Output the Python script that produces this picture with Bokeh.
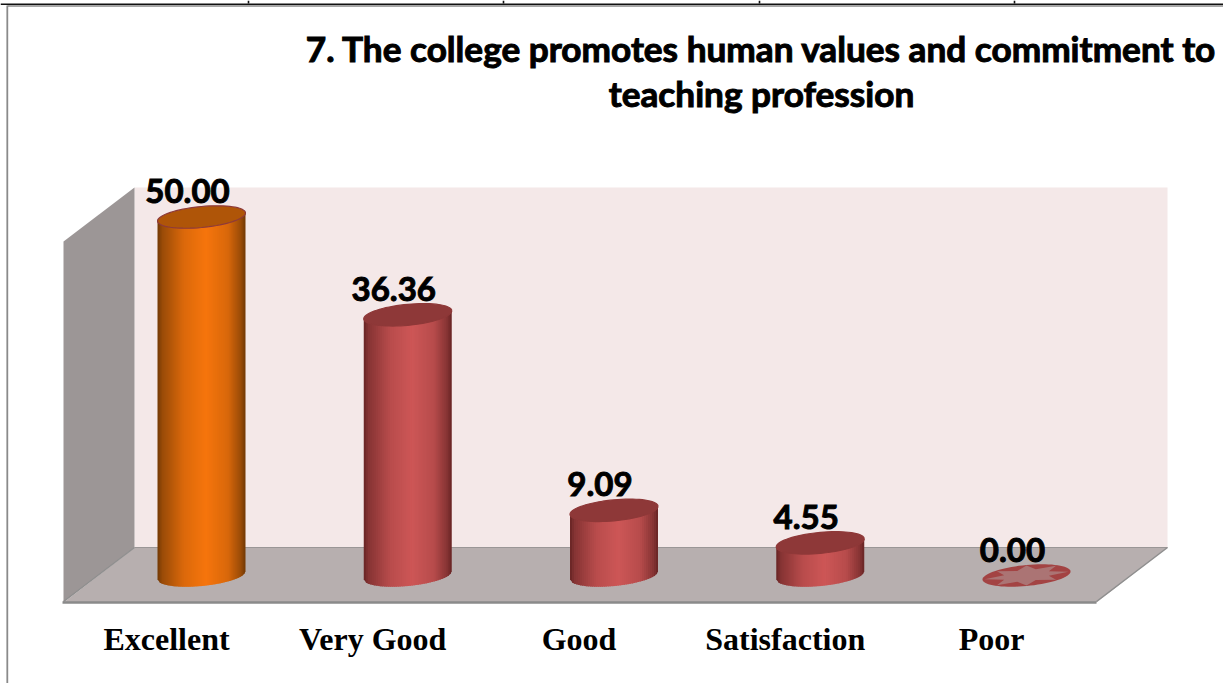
import numpy as np
from bokeh.plotting import figure
from bokeh.models import Range1d, FixedTicker
from bokeh.core.properties import value
from bokeh.embed import file_html
from bokeh.resources import INLINE

# ---- data ----
categories = ["Excellent", "Very Good", "Good", "Satisfaction", "Poor"]
scores = [50.00, 36.36, 9.09, 4.55, 0.00]
score_labels = ["50.00", "36.36", "9.09", "4.55", "0.00"]
title_lines = ["7. The college promotes human values and commitment to", "teaching profession"]

W, H = 1223, 683
STEP = 206.25      # px per category
X0 = 166.0         # px of first category label
Y0 = 575.0         # px of value 0
K = 7.17           # px per value unit

def dx(px):  # pixel -> x data
    return (px - X0) / STEP
def dy(py):  # pixel -> y data
    return (Y0 - py) / K

p = figure(width=W, height=H, output_backend="svg", toolbar_location=None,
           x_range=Range1d(dx(0), dx(W)), y_range=Range1d(dy(H), dy(0)),
           min_border=0, min_border_left=0, min_border_right=0, min_border_top=0, min_border_bottom=0,
           outline_line_color=None, background_fill_color="white", border_fill_color="white")
p.grid.visible = False
p.yaxis.visible = False

# category axis drawn at fixed height inside the frame
ax = p.xaxis[0]
ax.ticker = FixedTicker(ticks=list(range(len(categories))))
ax.major_label_overrides = {i: c for i, c in enumerate(categories)}
ax.fixed_location = dy(614)
ax.axis_line_color = None
ax.major_tick_line_color = None
ax.minor_tick_line_color = None
ax.major_label_standoff = 0
ax.major_label_text_font = "Liberation Serif"
ax.major_label_text_font_style = "bold"
ax.major_label_text_font_size = "32px"
ax.major_label_text_color = "#000000"

def poly(pts, **kw):
    xs = [dx(a) for a, _ in pts]
    ys = [dy(b) for _, b in pts]
    p.patch(xs, ys, line_width=0, **kw)

def hline(pts, color, width):
    p.line([dx(a) for a, _ in pts], [dy(b) for _, b in pts], line_color=color, line_width=width)

# page furniture
hline([(0, 3.7), (W, 3.7)], "#111111", 1.6)
hline([(7, 5.5), (W, 5.5)], "#8a8a8a", 1.6)
hline([(6.8, 5), (6.8, H)], "#8a8a8a", 1.8)
for tx in [248, 503, 759, 1014]:
    hline([(tx, 0), (tx, 3)], "#111111", 1.6)

# 3D box
poly([(134, 187), (1167, 187), (1167, 547), (134, 547)], fill_color="#F4E8E8", line_color="#F4E8E8")
poly([(63, 241), (134, 187), (134, 547), (63, 602)], fill_color="#9C9696", line_color="#9C9696")
poly([(63, 602), (134, 547), (1167, 547), (1096, 602)], fill_color="#B7AFAF", line_color="#B7AFAF")
hline([(134, 547), (1167, 547)], "#9a9696", 1.2)
hline([(63, 601), (134, 547)], "#8f8f8f", 1.2)
hline([(1096, 601), (1167, 547)], "#8f8f8f", 1.5)
hline([(62, 602), (1096, 602)], "#8a8a8a", 2.6)

# cylinders
A = 44.0     # half width px
B = 10.5     # half ellipse height px
TILT = 4.0   # px rise at right end
BAR_SHIFT = 35.0  # bars sit right of their axis label, px

def lerp_color(c1, c2, t):
    return "#%02x%02x%02x" % tuple(int(round(a + (b - a) * t)) for a, b in zip(c1, c2))

def shade(u, edge, mid):
    xs = [0.0, 0.05, 0.3, 0.55, 0.8, 0.95, 1.0]
    ts = [0.0, 0.3, 0.8, 1.0, 0.78, 0.3, 0.0]
    t = float(np.interp(u, xs, ts))
    return lerp_color(edge, mid, t)

def ellipse_pts(cx, cy, n=72):
    th = np.linspace(0, 2 * np.pi, n, endpoint=False)
    ex = cx + A * np.cos(th)
    ey = cy - TILT * np.cos(th) - B * np.sin(th)
    return ex, ey

def low(o):
    return Y0 - TILT * o / A + B * np.sqrt(max(0.0, 1 - (o / A) ** 2))

for i, v in enumerate(scores):
    cx = X0 + STEP * i + BAR_SHIFT
    top = Y0 - K * v
    if i == 0:
        edge, mid, cap, rim = (0x70, 0x38, 0x05), (0xF6, 0x75, 0x0C), "#AF5508", "#8E3A3A"
    else:
        edge, mid, cap, rim = (0x66, 0x24, 0x24), (0xCD, 0x56, 0x56), "#8E3838", "#8E3838"
    if v > 0:
        n = 44
        ed = np.linspace(-A, A, n + 1)
        for j in range(n):
            l, r = ed[j], ed[j + 1]
            r2 = min(r + 1.2, A)
            col = shade((j + 0.5) / n, edge, mid)
            pts = [(cx + l, top - TILT * l / A), (cx + r2, top - TILT * r2 / A),
                   (cx + r2, low(r2)), (cx + l, low(l))]
            poly(pts, fill_color=col, line_color=col)
        ex, ey = ellipse_pts(cx, top)
        poly(list(zip(ex, ey)), fill_color=cap, line_color=cap)
        p.line([dx(a) for a in np.append(ex, ex[0])], [dy(b) for b in np.append(ey, ey[0])],
               line_color=rim, line_width=1.2)
    else:
        ex, ey = ellipse_pts(cx, top)
        poly(list(zip(ex, ey)), fill_color="#A34343", line_color="#A34343")
        th = np.linspace(0, 2 * np.pi, 16, endpoint=False)
        rad = np.where(np.arange(16) % 2 == 0, 0.95, 0.55)
        sx = cx + A * rad * np.cos(th)
        sy = top - TILT * rad * np.cos(th) - B * rad * np.sin(th)
        poly(list(zip(sx, sy)), fill_color="#AB7474", line_color="#AB7474")

# value labels
label_x = [i + dx(X0 + BAR_SHIFT - 14) for i in range(len(scores))]
label_y = [s + dy(Y0 - 26) for s in scores]
p.text(label_x, label_y, text=score_labels, text_font=value("Lato"), text_font_style="bold",
       text_font_size="33px", text_align="center", text_baseline="middle", text_color="#000000",
       text_outline_color="#000000")

# title
p.text([dx(761), dx(761)], [dy(47), dy(92)], text=title_lines, text_font=value("Lato"),
       text_font_style="bold", text_font_size="35.2px", text_align="center", text_baseline="middle",
       text_color="#000000", text_outline_color="#000000")

open("out.html", "w").write(file_html(p, INLINE))
